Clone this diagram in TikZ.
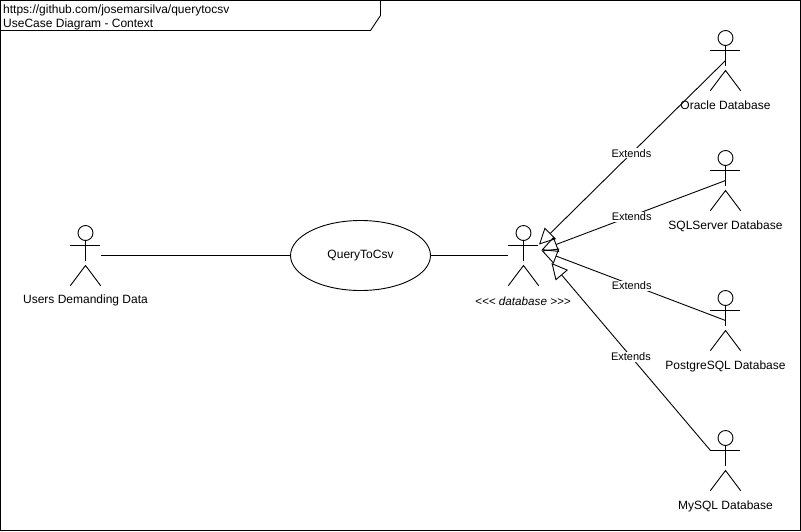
\documentclass[tikz,border=0pt]{standalone}
\usepackage{fontspec}
\setmainfont{Liberation Sans}[Ligatures=NoCommon]
\usetikzlibrary{arrows.meta,calc,shapes.geometric}
\tikzset{
  line/.style={draw=black,line width=0.9pt},
  actorbox/.style={inner sep=0pt,minimum width=30pt,minimum height=60pt},
  usecase/.style={line,ellipse,minimum width=140pt,minimum height=70pt,inner sep=0pt,font=\fontsize{12}{14}\selectfont},
  actorlabel/.style={inner sep=0pt,font=\fontsize{12}{14}\selectfont},
  stereolabel/.style={inner sep=0pt,font=\fontsize{11.7}{13}\selectfont\itshape},
  titlelabel/.style={inner sep=0pt,anchor=west,font=\fontsize{12}{14}\selectfont},
  extendlabel/.style={fill=white,inner sep=1pt,font=\fontsize{11}{13}\selectfont},
  extends/.style={line,line join=miter,-{Triangle[open,length=16pt,width=16pt,line width=0.9pt]}},
}
\newcommand{\umlactor}[3]{%
  \node[actorbox] (#1) at (#2,#3) {};
  \coordinate (#1arm) at ($(#1.north west)+(0,20)$);
  \draw[line] (#2,#3-22.5) circle (7.5);
  \draw[line] (#2,#3-15) -- (#2,#3+5);
  \draw[line] (#1arm) -- ++(30,0);
  \draw[line] (#1.south west) -- (#2,#3+10) -- (#1.south east);
}
\begin{document}
\begin{tikzpicture}[x=1pt,y=-1pt]
\useasboundingbox (0,0) rectangle (801,531);
\fill[white] (0,0) rectangle (801,531);
\node[inner sep=0pt,minimum width=800pt,minimum height=530pt,line] (frame) at (400.5,265.5) {};
\coordinate (tabA) at (0.5,30.5);
\coordinate (tabB) at (370.5,30.5);
\coordinate (tabC) at (380.5,15.5);
\coordinate (tabD) at (380.5,0.5);
\draw[line] (tabA) -- (tabB) -- (tabC) -- (tabD);
\node[titlelabel] (t1) at (3,10) {https://github.com/josemarsilva/querytocsv};
\node[titlelabel] (t2) at (3,24.5) {UseCase Diagram - Context};

\umlactor{users}{85.5}{255.5}
\umlactor{db}{523.5}{255.5}
\umlactor{oracle}{725.5}{60.5}
\umlactor{sqlserver}{725.5}{180.5}
\umlactor{postgres}{725.5}{320.5}
\umlactor{mysql}{725.5}{460.5}

\node[actorlabel] (lusers) at (85.5,300.5) {Users Demanding Data};
\node[stereolabel] (ldb) at (523,301) {<{}<{}< database >{}>{}>};
\node[actorlabel] (loracle) at (725.5,105) {Oracle Database};
\node[actorlabel] (lsql) at (725.5,226) {SQLServer Database};
\node[actorlabel] (lpg) at (725.5,366) {PostgreSQL Database};
\node[actorlabel] (lmy) at (725.5,506) {MySQL Database};

\node[usecase] (uc) at (360.5,255.5) {\raisebox{-1pt}{QueryToCsv}};
\draw[line] (users.east) -- (uc);
\draw[line] (uc) -- (db.west);

\coordinate (tip1) at (539,244.5);
\coordinate (tip2) at (541.5,250);
\coordinate (tip3) at (541.5,250.5);
\coordinate (tip4) at (551.5,263);
\draw[extends] (oracle.center) -- node[extendlabel,pos=.51,xshift=1pt,yshift=1pt] (e1) {Extends} (tip1);
\draw[extends] (sqlserver.center) -- node[extendlabel,pos=.51,yshift=-1pt] (e2) {Extends} (tip2);
\draw[extends] (postgres.center) -- node[extendlabel,pos=.51,yshift=-1pt] (e3) {Extends} (tip3);
\draw[extends] (mysqlarm) -- node[extendlabel,pos=.5] (e4) {Extends} (tip4);
\end{tikzpicture}
\end{document}
